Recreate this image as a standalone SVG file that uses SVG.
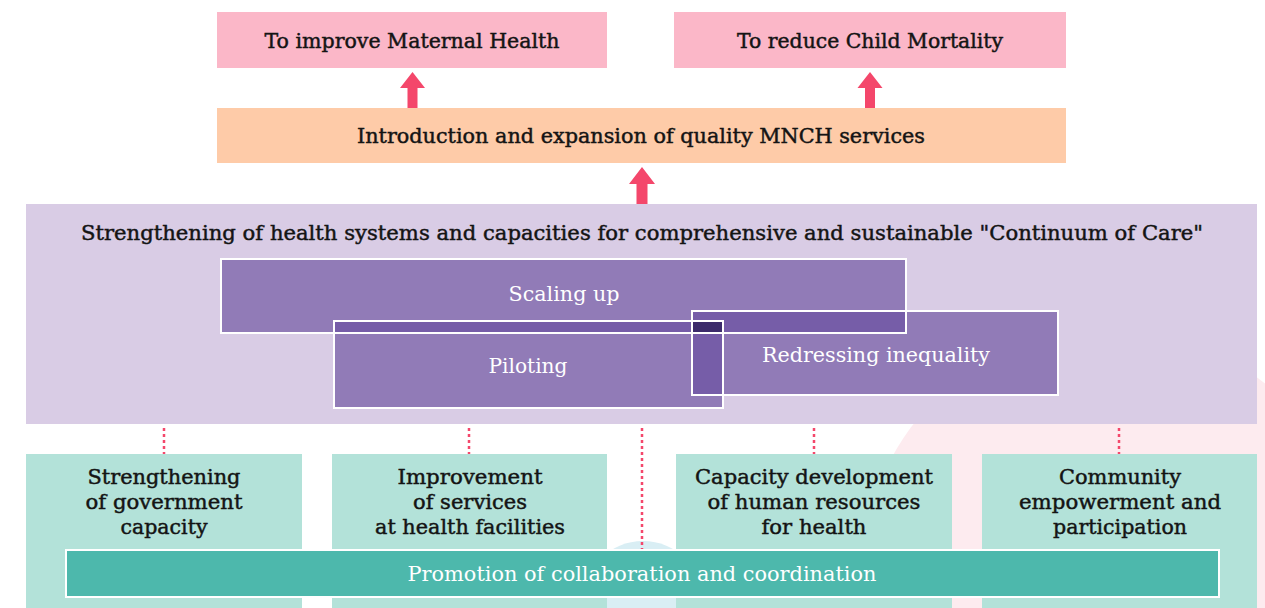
<svg xmlns="http://www.w3.org/2000/svg" width="1265" height="608" viewBox="0 0 1265 608">
<style>
.t{font-family:"DejaVu Serif","Liberation Serif",serif;font-size:20px;fill:#141414;stroke:#141414;stroke-width:0.45;text-anchor:middle}
.w{fill:#ffffff;stroke:none}
.goal{fill:#fbb7c8}
.arrow{fill:#f4476b}
.dot{stroke:#f4476b;stroke-width:2.5;stroke-dasharray:3 3;fill:none}
.pbox{fill:#917bb7}
.dbl{fill:#765da8}
.frame{fill:none;stroke:#ffffff;stroke-width:2}
.comp{fill:#b3e2d9}
</style>
<rect width="1265" height="608" fill="#ffffff"/>
<g id="background">
<circle cx="1109" cy="575" r="247" fill="#fdebef"/>
<circle cx="643" cy="602" r="61" fill="#d9eef4"/>
</g>
<g id="goal-maternal">
<rect class="goal" x="217" y="12" width="390" height="56"/>
<text class="t" x="412" y="48" textLength="295" lengthAdjust="spacingAndGlyphs">To improve Maternal Health</text>
</g>
<g id="goal-child">
<rect class="goal" x="674" y="12" width="392" height="56"/>
<text class="t" x="870" y="48" textLength="266" lengthAdjust="spacingAndGlyphs">To reduce Child Mortality</text>
</g>
<g id="mnch-services">
<rect x="217" y="108" width="849" height="55" fill="#fecba8"/>
<text class="t" x="641" y="143" textLength="568" lengthAdjust="spacingAndGlyphs">Introduction and expansion of quality MNCH services</text>
</g>
<g id="health-systems">
<rect x="26" y="204" width="1231" height="220" fill="#d9cce5"/>
<text class="t" x="642" y="240" textLength="1122" lengthAdjust="spacingAndGlyphs">Strengthening of health systems and capacities for comprehensive and sustainable "Continuum of Care"</text>
</g>
<g id="approaches">
<rect class="pbox" x="221" y="259" width="685" height="74"/>
<rect class="pbox" x="334" y="321" width="389" height="87"/>
<rect class="pbox" x="692" y="311" width="366" height="84"/>
<rect class="dbl" x="334" y="321" width="389" height="12"/>
<rect class="dbl" x="692" y="311" width="214" height="22"/>
<rect class="dbl" x="692" y="321" width="31" height="74"/>
<rect x="692" y="321" width="31" height="12" fill="#3c2b6b"/>
<rect class="frame" x="221" y="259" width="685" height="74"/>
<rect class="frame" x="334" y="321" width="389" height="87"/>
<rect class="frame" x="692" y="311" width="366" height="84"/>
</g>
<g id="scaling-up">
<text class="t w" x="564" y="301" textLength="111" lengthAdjust="spacingAndGlyphs">Scaling up</text>
</g>
<g id="piloting">
<text class="t w" x="528" y="373" textLength="79" lengthAdjust="spacingAndGlyphs">Piloting</text>
</g>
<g id="redressing-inequality">
<text class="t w" x="876" y="362" textLength="228" lengthAdjust="spacingAndGlyphs">Redressing inequality</text>
</g>
<g id="connectors">
<polygon class="arrow" points="412.5,72 425,88 417.5,88 417.5,108 407.5,108 407.5,88 400,88"/>
<polygon class="arrow" points="870,72 882.5,88 875,88 875,108 865,108 865,88 857.5,88"/>
<polygon class="arrow" points="642,167 655,184 647.5,184 647.5,204 636.5,204 636.5,184 629,184"/>
<line class="dot" x1="164" y1="428" x2="164" y2="454"/>
<line class="dot" x1="469" y1="428" x2="469" y2="454"/>
<line class="dot" x1="642" y1="428" x2="642" y2="550"/>
<line class="dot" x1="814" y1="428" x2="814" y2="454"/>
<line class="dot" x1="1119" y1="428" x2="1119" y2="454"/>
</g>
<g id="government-capacity">
<rect class="comp" x="26" y="454" width="276" height="154"/>
<text class="t" x="164" y="484" textLength="153" lengthAdjust="spacingAndGlyphs">Strengthening</text>
<text class="t" x="164" y="509" textLength="157" lengthAdjust="spacingAndGlyphs">of government</text>
<text class="t" x="164" y="534" textLength="87" lengthAdjust="spacingAndGlyphs">capacity</text>
</g>
<g id="health-facilities">
<rect class="comp" x="332" y="454" width="275" height="154"/>
<text class="t" x="470" y="484" textLength="145" lengthAdjust="spacingAndGlyphs">Improvement</text>
<text class="t" x="470" y="509" textLength="114" lengthAdjust="spacingAndGlyphs">of services</text>
<text class="t" x="470" y="534" textLength="190" lengthAdjust="spacingAndGlyphs">at health facilities</text>
</g>
<g id="human-resources">
<rect class="comp" x="676" y="454" width="276" height="154"/>
<text class="t" x="814" y="484" textLength="238" lengthAdjust="spacingAndGlyphs">Capacity development</text>
<text class="t" x="814" y="509" textLength="213" lengthAdjust="spacingAndGlyphs">of human resources</text>
<text class="t" x="814" y="534" textLength="105" lengthAdjust="spacingAndGlyphs">for health</text>
</g>
<g id="community">
<rect class="comp" x="982" y="454" width="275" height="154"/>
<text class="t" x="1120" y="484" textLength="122" lengthAdjust="spacingAndGlyphs">Community</text>
<text class="t" x="1120" y="509" textLength="202" lengthAdjust="spacingAndGlyphs">empowerment and</text>
<text class="t" x="1120" y="534" textLength="134" lengthAdjust="spacingAndGlyphs">participation</text>
</g>
<g id="collaboration">
<rect x="66" y="550" width="1153" height="47" fill="#4db8ac" stroke="#ffffff" stroke-width="2"/>
<text class="t w" x="642" y="581" textLength="469" lengthAdjust="spacingAndGlyphs">Promotion of collaboration and coordination</text>
</g>
</svg>
